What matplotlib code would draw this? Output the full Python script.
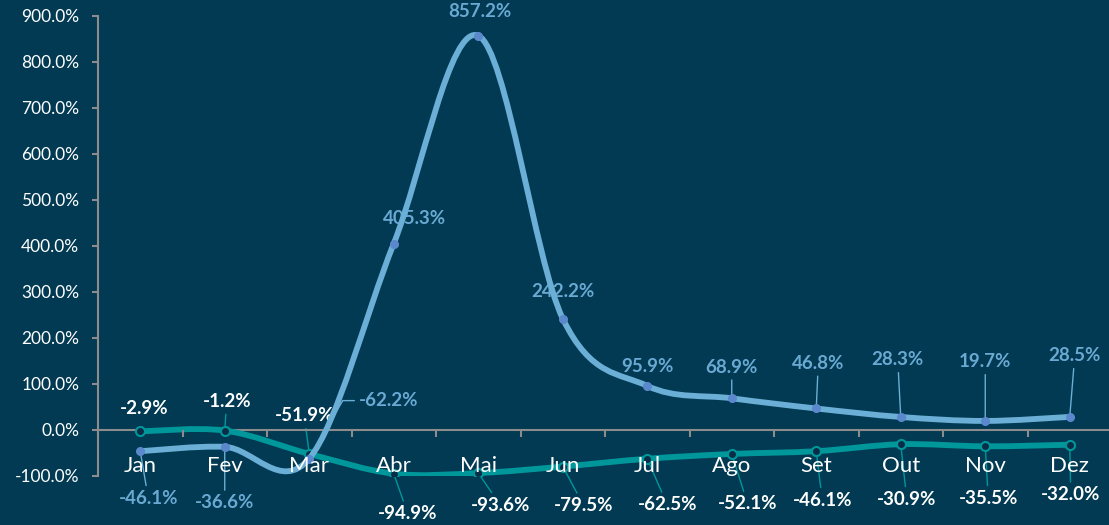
import numpy as np
import matplotlib
matplotlib.use('Agg')
import matplotlib.pyplot as plt
from matplotlib.path import Path
from matplotlib.patches import PathPatch
from matplotlib.ticker import FuncFormatter, FixedLocator

# data
months = ['Jan', 'Fev', 'Mar', 'Abr', 'Mai', 'Jun', 'Jul', 'Ago', 'Set', 'Out', 'Nov', 'Dez']
serie_a = [-46.1, -36.6, -62.2, 405.3, 857.2, 242.2, 95.9, 68.9, 46.8, 28.3, 19.7, 28.5]
serie_b = [-2.9, -1.2, -51.9, -94.9, -93.6, -79.5, -62.5, -52.1, -46.1, -30.9, -35.5, -32.0]

# label offsets in pixels (dx, dy) and leader lines
offs_a = [(8, -47), (0, -56), (79, 58), (21, 25), (2, 24), (0, 27),
          (0, 19), (0, 31), (2, 45), (-3, 57), (0, 59), (5, 61)]
lead_a = [1, 1, 2, 0, 0, 0, 0, 1, 1, 1, 1, 1]
offs_b = [(4, 23), (2, 29), (-5, 38), (14, -40), (22, -32), (21, -39),
          (20, -46), (16, -50), (6, -49), (6, -55), (3, -52), (1, -50)]
lead_b = [0, 1, 1, 1, 1, 1, 1, 1, 1, 1, 1, 1]

bg = '#013A52'
c_a = '#6BAED6'
c_a_txt = '#6AA9D3'
c_a_mk = '#5B88CC'
c_b = '#00979B'
c_b_mk = '#0B2C47'
grey = '#8C8C8C'

plt.rcParams['font.family'] = ['Lato', 'DejaVu Sans']


def smooth_path(xs, ys):
    # bezier curve through the points, excel-like smoothing
    n = len(xs)
    verts = [(xs[0], ys[0])]
    codes = [Path.MOVETO]
    for i in range(n - 1):
        p0 = i - 1 if i > 0 else i
        p3 = i + 2 if i + 2 < n else i + 1
        c1 = (xs[i] + (xs[i + 1] - xs[p0]) / 6, ys[i] + (ys[i + 1] - ys[p0]) / 6)
        c2 = (xs[i + 1] - (xs[p3] - xs[i]) / 6, ys[i + 1] - (ys[p3] - ys[i]) / 6)
        verts += [c1, c2, (xs[i + 1], ys[i + 1])]
        codes += [Path.CURVE4] * 3
    return Path(verts, codes)


def leader(flag, color):
    if not flag:
        return None
    d = dict(arrowstyle='-', color=color, lw=1, shrinkA=1, shrinkB=0)
    if flag == 2:
        d['connectionstyle'] = 'angle,angleA=0,angleB=60,rad=0'
    return d


fig = plt.figure(figsize=(11.09, 5.25), dpi=100, facecolor=bg)
ax = fig.add_axes([98 / 1109, 49 / 525, 1014 / 1109, 460 / 525])
ax.set_facecolor(bg)

x = np.arange(len(months))

ax.add_patch(PathPatch(smooth_path(x, serie_b), fill=False, edgecolor=c_b, lw=4.2,
                       capstyle='round', joinstyle='round', zorder=3))
ax.plot(x, serie_b, 'o', ms=6.5, mfc=c_b_mk, mec=c_b, mew=1.5, zorder=4)

ax.add_patch(PathPatch(smooth_path(x, serie_a), fill=False, edgecolor=c_a, lw=4.2,
                       capstyle='round', joinstyle='round', zorder=5))
ax.plot(x, serie_a, 'o', ms=5.5, mfc=c_a_mk, mec=c_a_mk, zorder=6)

for i, v in enumerate(serie_a):
    ax.annotate(f'{v:.1f}%', (i, v), xytext=offs_a[i], textcoords='offset pixels',
                ha='center', va='center', color=c_a_txt, fontsize=13.5, fontweight='bold',
                arrowprops=leader(lead_a[i], c_a), zorder=2)

for i, v in enumerate(serie_b):
    ax.annotate(f'{v:.1f}%', (i, v), xytext=offs_b[i], textcoords='offset pixels',
                ha='center', va='center', color='white', fontsize=13.5, fontweight='bold',
                arrowprops=leader(lead_b[i], c_b), zorder=2)

ax.set_xlim(-0.5, 11.5)
ax.set_ylim(-100, 900)
ax.set_yticks(np.arange(-100, 901, 100))
ax.yaxis.set_major_formatter(FuncFormatter(lambda v, p: f'{v:.1f}%'))

ax.set_xticks(x)
ax.set_xticklabels(months)
ax.xaxis.set_minor_locator(FixedLocator(np.arange(-0.5, 12, 1)))
ax.xaxis.set_zorder(10)

for s in ['top', 'right']:
    ax.spines[s].set_visible(False)
ax.spines['bottom'].set_position(('data', 0))
ax.spines['bottom'].set_color(grey)
ax.spines['bottom'].set_linewidth(1.5)
ax.spines['left'].set_color(grey)
ax.spines['left'].set_linewidth(1.5)

ax.tick_params(axis='y', colors=grey, labelcolor='white', labelsize=12.5, length=4.5,
               width=1.5, pad=9)
ax.tick_params(axis='x', which='major', length=0, labelcolor='white', labelsize=16, pad=19)
ax.tick_params(axis='x', which='minor', length=5, width=1.5, colors=grey, direction='out')

fig.savefig('out.png', dpi=100, facecolor=bg)
